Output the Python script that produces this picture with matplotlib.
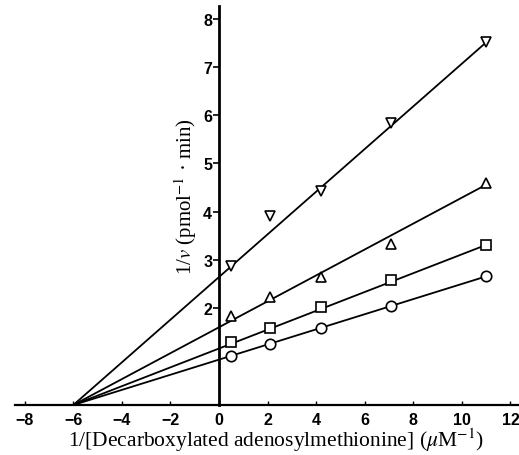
import numpy as np
import matplotlib
matplotlib.use("Agg")
import matplotlib.pyplot as plt
import matplotlib.ticker as ticker

plt.rcParams['mathtext.fontset'] = 'stix'

# 1/[S] (uM^-1)
x_pts = [0.5, 2.1, 4.2, 7.1, 11.0]

# 1/v values for each series
y_circle = [1.02, 1.26, 1.60, 2.05, 2.67]
y_square = [1.30, 1.59, 2.03, 2.58, 3.32]
y_up = [1.85, 2.23, 2.64, 3.33, 4.60]
y_down = [2.87, 3.92, 4.43, 5.83, 7.52]

# fitted lines: common x-intercept and y-intercepts
x_line = [-6.0, 11.0]
intercepts = [0.94, 1.17, 1.61, 2.65]

series = [(y_circle, 'o'), (y_square, 's'), (y_up, '^'), (y_down, 'v')]

fig = plt.figure(figsize=(5.19, 4.56), dpi=100)
ax = fig.add_axes([0.0289, 0.1096, 0.9711, 0.874])

for b in intercepts:
    slope = b / (-x_line[0])
    ys = [b + slope * xx for xx in x_line]
    ax.plot(x_line, ys, color='black', lw=1.3, zorder=2)

for ys, m in series:
    ax.plot(x_pts, ys, ls='none', marker=m, markersize=7.5,
            markerfacecolor='white', markeredgecolor='black',
            markeredgewidth=1.2, zorder=3)

ax.set_xlim(-8.4, 12.35)
ax.set_ylim(0, 8.25)

ax.spines['top'].set_visible(False)
ax.spines['right'].set_visible(False)
ax.spines['left'].set_position(('data', 0))
ax.spines['left'].set_linewidth(2.0)
ax.spines['bottom'].set_linewidth(1.6)

ax.xaxis.set_major_locator(ticker.MultipleLocator(2))
ax.yaxis.set_major_locator(ticker.FixedLocator([2, 3, 4, 5, 6, 7, 8]))
ax.tick_params(axis='x', direction='in', length=3, width=1, pad=5)
ax.tick_params(axis='y', direction='out', length=4, width=1.2, pad=1)

for lab in ax.get_xticklabels() + ax.get_yticklabels():
    lab.set_fontfamily('Liberation Sans')
    lab.set_fontsize(11.5)
    lab.set_fontweight('bold')
ax.xaxis.set_major_formatter(ticker.FuncFormatter(
    lambda v, p: ('\u2212%d' % -v) if v < 0 else '%d' % v))

ax.set_xlabel('1/[Decarboxylated adenosylmethionine] ($\\mu$M$^{-1}$)',
              family='Liberation Serif', fontsize=15.5, labelpad=-1)
ax.xaxis.label.set_x(0.518)
ax.text(-1.36, 4.33, '1/$v$ (pmol$^{-1}$ \u00b7 min)', rotation=90,
        family='Liberation Serif', fontsize=15, ha='center', va='center')

fig.savefig('out.png', dpi=100)
